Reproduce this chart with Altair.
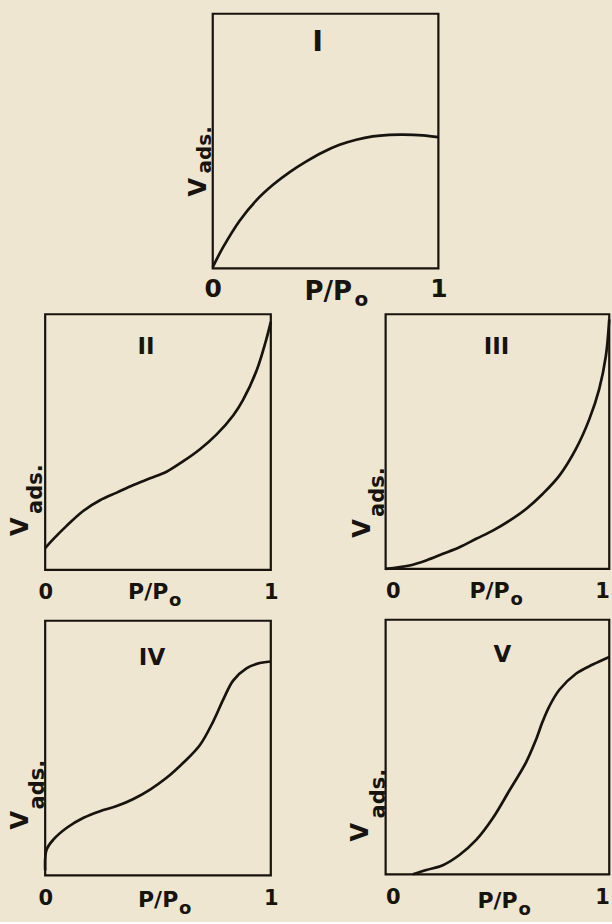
import altair as alt
import pandas as pd

# Five adsorption isotherm types (BDDT classification): V_ads against P/P0
NUMERALS = ["I", "II", "III", "IV", "V"]
X_LABEL = ["P/P", "o"]      # main text and subscript
Y_LABEL = ["V", "ads."]     # main text and subscript
TICKS = [0, 1]

P_I = [0.0, 0.046, 0.12, 0.193, 0.267, 0.341, 0.415, 0.488, 0.562, 0.636, 0.709, 0.783, 0.842, 0.931, 1.0]
V_I = [0.005, 0.083, 0.188, 0.267, 0.328, 0.378, 0.420, 0.456, 0.485, 0.505, 0.518, 0.524, 0.525, 0.522, 0.515]

P_II = [0.0, 0.037, 0.096, 0.17, 0.243, 0.317, 0.391, 0.465, 0.538, 0.612, 0.686, 0.76, 0.834, 0.877, 0.937, 0.981, 1.0]
V_II = [0.085, 0.121, 0.173, 0.231, 0.272, 0.302, 0.332, 0.358, 0.384, 0.425, 0.472, 0.530, 0.605, 0.665, 0.780, 0.905, 0.97]

P_III = [0.0, 0.107, 0.182, 0.256, 0.330, 0.405, 0.479, 0.554, 0.628, 0.702, 0.777, 0.851, 0.911, 0.955, 0.985, 1.0]
V_III = [0.0, 0.013, 0.033, 0.059, 0.085, 0.118, 0.150, 0.189, 0.235, 0.294, 0.366, 0.471, 0.588, 0.706, 0.837, 0.98]

P_IV = [0.0, 0.006, 0.037, 0.096, 0.17, 0.243, 0.317, 0.391, 0.465, 0.538, 0.612, 0.686, 0.745, 0.789, 0.833, 0.892, 0.951, 1.0]
V_IV = [0.02, 0.10, 0.141, 0.187, 0.226, 0.252, 0.272, 0.300, 0.337, 0.383, 0.442, 0.512, 0.605, 0.690, 0.765, 0.813, 0.834, 0.84]

P_V = [0.122, 0.182, 0.256, 0.330, 0.405, 0.479, 0.554, 0.628, 0.673, 0.702, 0.732, 0.777, 0.851, 0.926, 1.0]
V_V = [0.0, 0.017, 0.036, 0.076, 0.135, 0.22, 0.330, 0.440, 0.530, 0.600, 0.660, 0.725, 0.788, 0.824, 0.854]

CURVES = {
    "I": (P_I, V_I),
    "II": (P_II, V_II),
    "III": (P_III, V_III),
    "IV": (P_IV, V_IV),
    "V": (P_V, V_V),
}

BG = "#eee6d1"
INK = "#17130f"
FONT = "DejaVu Sans"

# Per-panel sizes and text placement, in pixels relative to each plot box
STYLE = {
    "I": dict(w=226, h=255, num=(105, 37, 29), tick=(25, 8), flush=False,
              p=(92, 287, 26), o=(142, 293, 20), v=(-7, 183, 24), a=(-2, 160, 20)),
    "II": dict(w=226, h=256, num=(101, 40, 23), tick=(21, 12), flush=False,
               p=(83, 285, 22), o=(124, 292, 18), v=(-17, 222, 24), a=(-3, 200, 21)),
    "III": dict(w=224, h=255, num=(111, 40, 23), tick=(21, 12), flush=True,
                p=(84, 284, 22), o=(125, 291, 18), v=(-16, 224, 24), a=(-2, 203, 21)),
    "IV": dict(w=226, h=255, num=(107, 44, 23), tick=(21, 12), flush=False,
               p=(93, 287, 22), o=(134, 294, 18), v=(-17, 209, 24), a=(-1, 189, 21)),
    "V": dict(w=224, h=255, num=(117, 42, 23), tick=(21, 12), flush=True,
              p=(92, 289, 22), o=(133, 296, 18), v=(-18, 222, 24), a=(-1, 199, 21)),
}


def txt(s, x, y, fs, angle=None, align="left"):
    kw = dict(font=FONT, fontSize=fs, fontWeight="bold", color=INK,
              align=align, baseline="alphabetic")
    if angle is not None:
        kw["angle"] = angle
    return alt.Chart(pd.DataFrame({"t": [s]})).mark_text(**kw).encode(
        text="t:N", x=alt.value(x), y=alt.value(y)
    )


def panel(name):
    xs, ys = CURVES[name]
    s = STYLE[name]
    df = pd.DataFrame({"p": xs, "v": ys})
    line = alt.Chart(df).mark_line(
        color=INK, strokeWidth=2.7, interpolate="catmull-rom"
    ).encode(
        x=alt.X(
            "p:Q",
            scale=alt.Scale(domain=[0, 1], nice=False, zero=False),
            axis=alt.Axis(
                values=TICKS, format="d", title=None, grid=False, ticks=False,
                domain=False, labelFlush=s["flush"], labelFont=FONT,
                labelFontWeight="bold", labelColor=INK,
                labelFontSize=s["tick"][0], labelPadding=s["tick"][1],
            ),
        ),
        y=alt.Y("v:Q", scale=alt.Scale(domain=[0, 1], nice=False), axis=None),
    )
    layers = [
        line,
        txt(name, s["num"][0], s["num"][1], s["num"][2], align="center"),
        txt(X_LABEL[0], *s["p"]),
        txt(X_LABEL[1], *s["o"]),
        txt(Y_LABEL[0], *s["v"], angle=270),
        txt(Y_LABEL[1], *s["a"], angle=270),
    ]
    return alt.layer(*layers).properties(width=s["w"], height=s["h"])


left_col = alt.vconcat(panel("II"), panel("IV"), spacing=7)
right_col = alt.vconcat(panel("III"), panel("V"), spacing=7)
lower = alt.hconcat(left_col, right_col, spacing=67)

chart = alt.vconcat(
    panel("I"), lower, spacing=0, center=True
).properties(
    background=BG,
    padding={"left": 8, "top": 11, "right": -4, "bottom": 0},
).configure_view(stroke=INK, strokeWidth=2.2)

chart.save("out.html", embed_options={"renderer": "svg", "actions": False})
